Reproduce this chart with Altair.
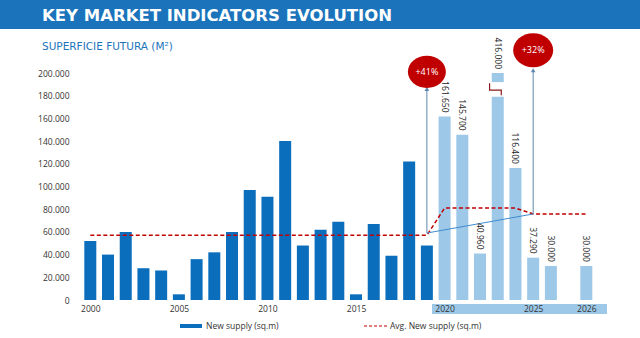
import altair as alt
import pandas as pd

# ---------------- data ----------------
hist_years = list(range(2000, 2020))
hist_supply = [52000, 40000, 60000, 28000, 26000, 5000, 36000, 42000, 60000, 97000,
               91000, 140000, 48000, 62000, 69000, 5000, 67000, 39000, 122000, 48000]
fut_years = [2020, 2021, 2022, 2023, 2024, 2025, 2026, 2028]
fut_supply = [161650, 145700, 40960, 416000, 116400, 37290, 30000, 30000]
avg_years = list(range(2000, 2029))
avg_supply = [57000] * 20 + [81000] * 5 + [75800] * 4
growth_years = [2019, 2025]
growth_base = [59000, 75800]
growth_labels = ["+41%", "+32%"]
xtick_values = [2000, 2005, 2010, 2015, 2020, 2025, 2028]
xtick_labels = ["2000", "2005", "2010", "2015", "2020", "2025", "2026"]
ytick_values = list(range(0, 200001, 20000))

AXIS_TOP = 200000
BREAK_LOW = 179000
BREAK_HIGH = 192000

FONT = "Open Sans"
TFONT = "DejaVu Sans"
DARK = "#0a6ebd"
LIGHT = "#9dc8e8"
RED = "#c00000"
TITLE_BLUE = "#1b74bb"
ARROW = "#5e87ad"

# ---------------- tables ----------------
hist = pd.DataFrame({"x": hist_years, "v": hist_supply})
fut = pd.DataFrame({"x": fut_years, "v": fut_supply})
fut["top"] = fut["v"].where(fut["v"] <= AXIS_TOP, BREAK_LOW)
fut["lab"] = fut["v"].map(lambda n: f"{n:,}".replace(",", "."))
fut["laby"] = fut["v"].clip(upper=AXIS_TOP)
upper = fut[fut["v"] > AXIS_TOP].copy()
upper["lo"] = BREAK_HIGH
upper["hi"] = AXIS_TOP
avg = pd.DataFrame({"x": avg_years, "v": avg_supply})
trend = pd.DataFrame({"x": growth_years, "v": growth_base})
arrows = pd.DataFrame({"x": growth_years, "lo": growth_base, "hi": [186000, 202500],
                       "cy": [201000, 220000], "lab": growth_labels,
                       "size": [1444, 1600]})
brk_x = upper["x"].iloc[0] if len(upper) else 2023
brk = pd.DataFrame({"x": [brk_x - 0.46, brk_x - 0.46, brk_x + 0.2, brk_x + 0.2],
                    "v": [191000, 185000, 185000, 180500], "o": [0, 1, 2, 3]})
one = pd.DataFrame({"a": [0]})

# ---------------- scales / axes ----------------
label_expr = "''"
for val, lab in zip(xtick_values, xtick_labels):
    label_expr = f"datum.value == {val} ? '{lab}' : ({label_expr})"

xs = alt.Scale(domain=[1999.418, 2028.886], nice=False, zero=False)
xa = alt.Axis(values=xtick_values, labelExpr=label_expr, title=None, ticks=False,
              domain=False, grid=False, labelFont=FONT, labelFontSize=8.5,
              labelColor="#333333", labelPadding=4, zindex=1, labelFlush=False)
ys = alt.Scale(domain=[0, AXIS_TOP], nice=False)
ya = alt.Axis(values=ytick_values, title=None, ticks=False, domain=False, grid=False,
              labelExpr="replace(format(datum.value, ','), ',', '.')",
              labelFont=FONT, labelFontSize=8.5, labelColor="#333333", labelPadding=6)


def X(f="x"):
    return alt.X(f"{f}:Q", scale=xs, axis=xa)


def Y(f="v"):
    return alt.Y(f"{f}:Q", scale=ys, axis=ya)


# ---------------- layers ----------------
title_band = alt.Chart(one).mark_rect(color=TITLE_BLUE).encode(
    x=alt.value(-75), x2=alt.value(565), y=alt.value(-73), y2=alt.value(-44))
title = alt.Chart(one).mark_text(text="KEY MARKET INDICATORS EVOLUTION", font=TFONT,
                                  fontSize=16.5, fontWeight="bold", color="white",
                                  align="left", baseline="middle").encode(
    x=alt.value(-33), y=alt.value(-57))
subtitle = alt.Chart(one).mark_text(text="SUPERFICIE FUTURA (M²)", font=TFONT, fontSize=10.5,
                                     color=TITLE_BLUE, align="left", baseline="middle").encode(
    x=alt.value(-33), y=alt.value(-26))
xband = alt.Chart(one).mark_rect(color=LIGHT).encode(
    x=alt.value(357), x2=alt.value(532), y=alt.value(231), y2=alt.value(241))

bars_hist = alt.Chart(hist).mark_bar(size=12, color=DARK).encode(x=X(), y=Y())
bars_fut = alt.Chart(fut).mark_bar(size=12, color=LIGHT).encode(x=X(), y=Y("top"))
bars_up = alt.Chart(upper).mark_bar(size=12, color=LIGHT).encode(x=X(), y=Y("lo"), y2="hi:Q")
brk_line = alt.Chart(brk).mark_line(color="#8b1a1a", strokeWidth=1.2).encode(
    x=X(), y=Y(), order="o:Q")
bar_labels = alt.Chart(fut).mark_text(angle=90, align="right", baseline="middle",
                                      font=FONT, fontSize=8.5, color="#222222", dx=-4).encode(
    x=X(), y=Y("laby"), text="lab:N")

avg_line = alt.Chart(avg).mark_line(color=RED, strokeDash=[4, 2.5], strokeWidth=1.5).encode(
    x=X(), y=Y())
trend_line = alt.Chart(trend).mark_line(color="#3f8dcf", strokeWidth=1).encode(x=X(), y=Y())
arrow_rules = alt.Chart(arrows).mark_rule(color=ARROW, strokeWidth=1).encode(
    x=X(), y=Y("lo"), y2="hi:Q")
arrow_heads = alt.Chart(arrows).mark_point(shape="triangle-up", filled=True, size=22,
                                           color=ARROW, opacity=1).encode(x=X(), y=Y("hi"))
ellipse = "M -1 0 A 1 0.85 0 1 1 1 0 A 1 0.85 0 1 1 -1 0 Z"
bubbles = alt.Chart(arrows).mark_point(shape=ellipse, filled=True, color=RED,
                                       opacity=1).encode(
    x=X(), y=Y("cy"), size=alt.Size("size:Q", scale=None, legend=None))
bubble_text = alt.Chart(arrows).mark_text(font=FONT, fontSize=9, color="white",
                                          baseline="middle").encode(
    x=X(), y=Y("cy"), text="lab:N")

leg_bar = alt.Chart(one).mark_rect(color=DARK).encode(
    x=alt.value(105), x2=alt.value(127), y=alt.value(251), y2=alt.value(255))
leg_bar_t = alt.Chart(one).mark_text(text="New supply (sq.m)", font=FONT, fontSize=8.5,
                                      color="#333333", align="left", baseline="middle").encode(
    x=alt.value(131), y=alt.value(253))
leg_line = alt.Chart(one).mark_rule(color=RED, strokeDash=[3, 2], strokeWidth=1.2).encode(
    x=alt.value(289), x2=alt.value(314), y=alt.value(253))
leg_line_t = alt.Chart(one).mark_text(text="Avg. New supply (sq.m)", font=FONT, fontSize=8.5,
                                       color="#333333", align="left", baseline="middle").encode(
    x=alt.value(315), y=alt.value(253))

chart = alt.layer(
    xband, bars_hist, bars_fut, bars_up, brk_line, avg_line, trend_line,
    arrow_rules, arrow_heads, bubbles, bubble_text, bar_labels,
    title_band, title, subtitle, leg_bar, leg_bar_t, leg_line, leg_line_t,
).properties(
    width=532, height=227,
    padding={"left": 75, "top": 73, "right": 33, "bottom": 38},
    autosize=alt.AutoSizeParams(type="none"),
    background="white",
).configure_view(stroke=None)

chart.save("out.html", embed_options={"renderer": "svg", "actions": False})
